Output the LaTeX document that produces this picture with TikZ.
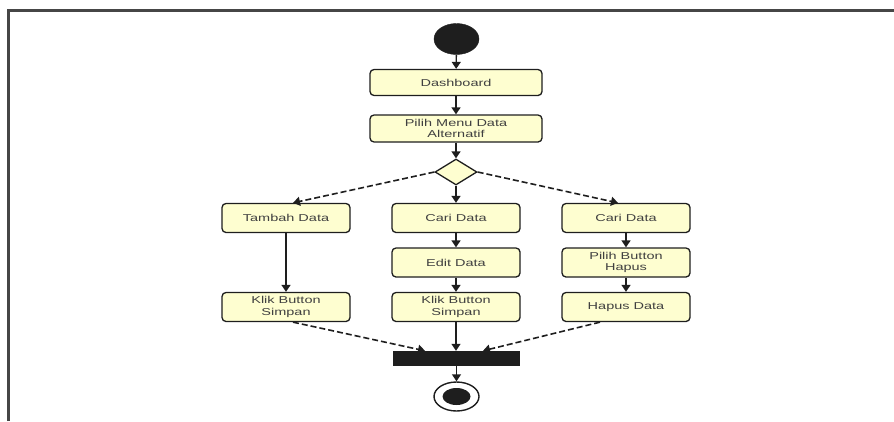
\documentclass[tikz,border=0pt]{standalone}
\usepackage{fontspec}
\setmainfont{Liberation Sans}[FakeStretch=1.45]
\usetikzlibrary{arrows.meta,shapes.geometric}
\definecolor{actfill}{RGB}{254,254,208}
\definecolor{framegray}{RGB}{70,70,70}
\definecolor{ink}{RGB}{30,30,30}
\begin{document}
\begin{tikzpicture}[x=1pt,y=-1pt,
  act/.style={draw=ink, line width=1.3pt, rounded corners=4pt, fill=actfill,
    inner sep=0pt, align=center, text=ink!85,
    font=\fontsize{10}{11.5}\selectfont},
  wideact/.style={act, minimum width=172pt, minimum height=26pt},
  narrowact/.style={act, minimum width=128pt, minimum height=29pt},
  flow/.style={draw=ink, line width=1.4pt, -{Triangle[width=9pt,length=7pt]}},
  branch/.style={flow, line width=1.6pt, dash pattern=on 6pt off 3pt},
  initial/.style={ellipse, fill=ink, draw=ink, minimum width=45pt, minimum height=31pt, inner sep=0pt},
  decision/.style={diamond, draw=ink, line width=1.3pt, fill=actfill, minimum width=42pt, minimum height=26pt, inner sep=0pt},
  joinbar/.style={rectangle, fill=ink, minimum width=127pt, minimum height=15pt, inner sep=0pt},
  finalring/.style={ellipse, draw=ink, line width=1.4pt, fill=white, minimum width=45pt, minimum height=29pt, inner sep=0pt},
  finaldot/.style={ellipse, fill=ink, minimum width=28pt, minimum height=17pt, inner sep=0pt}]
\useasboundingbox (0,0) rectangle (894,421);

% page frame (top and left rules)
\draw[framegray, line width=2.5pt] (8.5,421) -- (8.5,10.5) -- (894,10.5);

% activity nodes
\node[initial] (start) at (456.5,39) {};
\node[wideact] (dash) at (456,82.5) {Dashboard};
\node[wideact, minimum height=27pt] (menu) at (456,128.5) {Pilih Menu Data\\Alternatif};
\node[decision] (dec) at (456,172) {};

\node[narrowact] (tambah) at (286,218) {Tambah Data};
\node[narrowact] (klikA) at (286,307) {Klik Button\\Simpan};

\node[narrowact] (cariB) at (456,218) {Cari Data};
\node[narrowact] (edit) at (456,262.5) {Edit Data};
\node[narrowact] (klikB) at (456,307) {Klik Button\\Simpan};

\node[narrowact] (cariC) at (626,218) {Cari Data};
\node[narrowact] (pilihC) at (626,262.5) {Pilih Button\\Hapus};
\node[narrowact] (hapus) at (626,307) {Hapus Data};

\node[joinbar] (bar) at (456.5,358.5) {};
\node[finalring] (endring) at (456.5,396.5) {};
\node[finaldot] (enddot) at (456.5,396.5) {};

% control flow
\draw[flow] (start) -- (dash);
\draw[flow] (dash) -- (menu);
\draw[flow] (menu) -- (dec);

\draw[branch] (dec.west) -- ([xshift=7pt]tambah.north);
\draw[flow] (dec.south) -- (cariB.north);
\draw[branch] (dec.east) -- ([xshift=-8pt]cariC.north);

\draw[flow] (tambah) -- (klikA);
\draw[flow] (cariB) -- (edit);
\draw[flow] (edit) -- (klikB);
\draw[flow] (cariC) -- (pilihC);
\draw[flow] (pilihC) -- (hapus);

\draw[branch] ([xshift=7pt]klikA.south) -- ([xshift=-31.5pt]bar.north);
\draw[flow] (klikB.south) -- (klikB.south |- bar.north);
\draw[branch] ([xshift=-26pt]hapus.south) -- ([xshift=26.5pt]bar.north);

\draw[flow] (bar.south -| endring.north) -- (endring.north);
\end{tikzpicture}
\end{document}
